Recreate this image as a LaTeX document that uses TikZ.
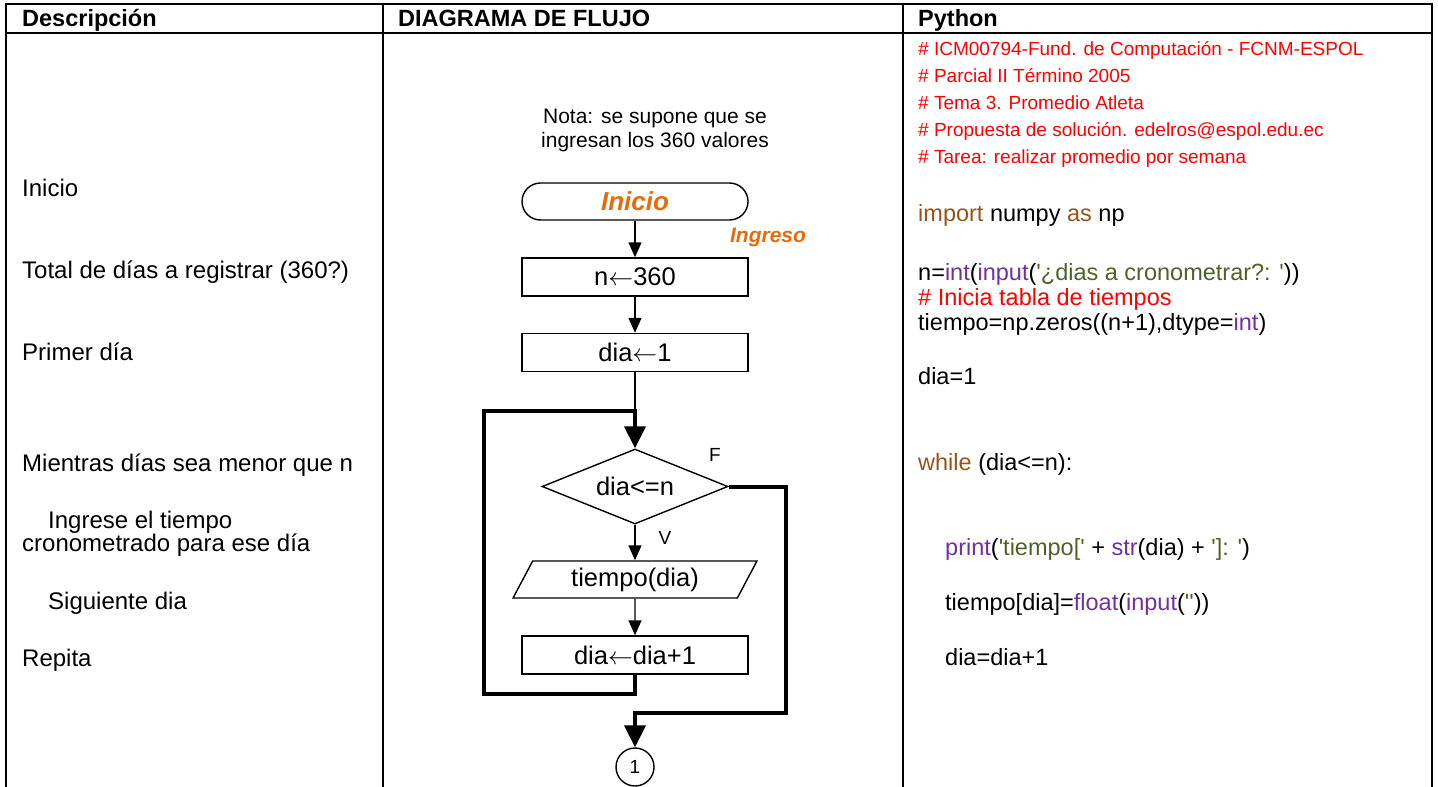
\documentclass[tikz,border=0pt]{standalone}
\usepackage{fontspec}
\setmainfont{Liberation Sans}
\usetikzlibrary{arrows.meta,shapes.geometric}
\definecolor{cred}{RGB}{255,0,0}
\definecolor{cbrown}{RGB}{150,84,28}
\definecolor{cpurple}{RGB}{112,48,160}
\definecolor{cgreen}{RGB}{79,98,40}
\definecolor{corange}{RGB}{228,108,10}
\newcommand{\sq}{\textquotesingle}
\newcommand{\asg}{\(\leftarrow\)}
\begin{document}
\begin{tikzpicture}[x=1pt,y=-1pt,
  grid/.style={line width=2.4pt},
  txt/.style={font=\fontsize{24}{28}\selectfont, inner sep=0pt, text height=17.2pt, text depth=0pt, anchor=west},
  code/.style={txt, font=\fontsize{23.5}{27}\selectfont, text height=16.8pt},
  hdr/.style={txt, font=\fontsize{23.5}{27}\selectfont\bfseries, text height=16.8pt},
  cmt/.style={txt, font=\fontsize{19}{22}\selectfont, text height=13.6pt, text=cred},
  lbl/.style={inner sep=0pt, font=\fontsize{19}{22}\selectfont},
  flow/.style={draw, line width=1.4pt, font=\fontsize{25.5}{29}\selectfont, inner sep=0pt, minimum width=226pt, minimum height=38pt},
  thinarr/.style={line width=1.4pt, -{Triangle[length=15pt,width=13pt]}},
  thickarr/.style={line width=4pt, -{Triangle[length=22pt,width=21pt]}},
  thinline/.style={line width=1.4pt}
]
\useasboundingbox (0,0) rectangle (1438,787);
% table
\draw[grid] (6,787) -- (6,4) -- (1432,4) -- (1432,787);
\draw[grid] (6,33) -- (1432,33);
\draw[grid] (383,4) -- (383,787);
\draw[grid] (903,4) -- (903,787);
% headers
\node[hdr] (h1) at (22,18) {Descripción};
\node[hdr] (h2) at (398,18) {DIAGRAMA DE FLUJO};
\node[hdr] (h3) at (918,18) {Python};
% description column
\node[txt] (t1) at (22,188) {Inicio};
\node[txt] (t2) at (22,270) {Total de días a registrar (360?)};
\node[txt] (t3) at (22,352) {Primer día};
\node[txt] (t4) at (22,463) {Mientras días sea menor que n};
\node[txt] (t5) at (48,520) {Ingrese el tiempo};
\node[txt] (t6) at (22,543) {cronometrado para ese día};
\node[txt] (t7) at (48,601) {Siguiente dia};
\node[txt] (t8) at (22,658) {Repita};
% flowchart
\node[lbl, font=\fontsize{21}{24}\selectfont] (nota1) at (655,118) {Nota: se supone que se};
\node[lbl, font=\fontsize{21}{24}\selectfont] (nota2) at (655,142) {ingresan los 360 valores};
\node[flow, rounded corners=18.5pt, minimum height=37pt, text=corange, font=\fontsize{26}{30}\selectfont\bfseries\itshape] (ini) at (635,201.5) {Inicio};
\node[lbl, text=corange, font=\fontsize{21}{24}\selectfont\bfseries\itshape] (ing) at (768,237) {Ingreso};
\node[flow] (nb) at (635,277) {n\asg360};
\node[flow] (d1) at (635,352.5) {dia\asg1};
\coordinate (j) at (635,411);
\coordinate (lb) at (484,694);
\coordinate (rx) at (786,713);
\node[flow, diamond, aspect=2.48, minimum width=186pt, minimum height=75pt] (dia) at (635,486.5) {dia<=n};
\node[flow, trapezium, trapezium left angle=62.8, trapezium right angle=117.2, trapezium stretches=true, minimum width=244pt, minimum height=37pt] (tp) at (635,579.5) {tiempo(dia)};
\node[flow] (inc) at (635,655) {dia\asg dia+1};
\node[draw, circle, line width=1.4pt, minimum size=38pt, inner sep=0pt, font=\fontsize{19}{22}\selectfont] (c1) at (635,767) {1};
\node[lbl] (F) at (715,455) {F};
\node[lbl] (V) at (665,538) {V};
\draw[thinarr] (ini.south) -- (nb.north);
\draw[thinarr] (nb.south) -- (d1.north);
\draw[thinline] (d1.south) -- (j);
\draw[thickarr] (inc.south) |- (lb) |- (j) -- (dia.north);
\draw[thinarr] (dia.south) -- (dia.south |- tp.north);
\draw[thinarr] (tp.south) -- (inc.north);
\draw[thickarr] (dia.east) -| (rx) -| (c1.north);
% python column
\node[cmt] (p1) at (918,49) {\# ICM00794-Fund. de Computación - FCNM-ESPOL};
\node[cmt] (p2) at (918,76) {\# Parcial II Término 2005};
\node[cmt] (p3) at (918,103) {\# Tema 3. Promedio Atleta};
\node[cmt] (p4) at (918,130) {\# Propuesta de solución. edelros@espol.edu.ec};
\node[cmt] (p5) at (918,157) {\# Tarea: realizar promedio por semana};
\node[code] (c1l) at (918,213) {{\color{cbrown}import} numpy {\color{cbrown}as} np};
\node[code] (c2l) at (918,272) {n={\color{cpurple}int}({\color{cpurple}input}({\color{cgreen}\sq{}¿dias a cronometrar?: \sq}))};
\node[code, text=cred] (c3l) at (918,297) {\# Inicia tabla de tiempos};
\node[code] (c4l) at (918,322) {tiempo=np.zeros((n+1),dtype={\color{cpurple}int})};
\node[code] (c5l) at (918,376) {dia=1};
\node[code] (c6l) at (918,462) {{\color{cbrown}while} (dia<=n):};
\node[code] (c7l) at (945,547) {{\color{cpurple}print}({\color{cgreen}\sq tiempo[\sq} + {\color{cpurple}str}(dia) + {\color{cgreen}\sq]: \sq})};
\node[code] (c8l) at (945,602) {tiempo[dia]={\color{cpurple}float}({\color{cpurple}input}({\color{cgreen}\sq\sq}))};
\node[code] (c9l) at (945,657) {dia=dia+1};
\end{tikzpicture}
\end{document}
